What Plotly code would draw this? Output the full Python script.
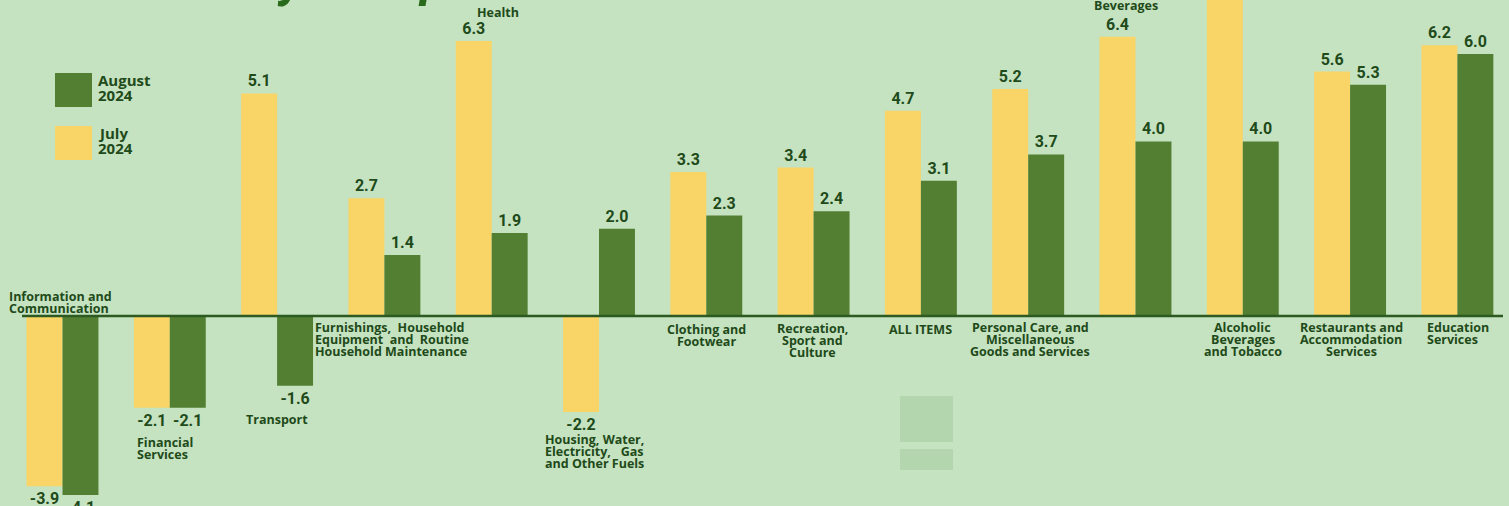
import plotly.graph_objects as go

# ---------------- data ----------------
categories = [
    "Information and Communication",
    "Financial Services",
    "Transport",
    "Furnishings, Household Equipment and Routine Household Maintenance",
    "Health",
    "Housing, Water, Electricity, Gas and Other Fuels",
    "Clothing and Footwear",
    "Recreation, Sport and Culture",
    "ALL ITEMS",
    "Personal Care, and Miscellaneous Goods and Services",
    "Food and Non-Alcoholic Beverages",
    "Alcoholic Beverages and Tobacco",
    "Restaurants and Accommodation Services",
    "Education Services",
]
july_2024 = [-3.9, -2.1, 5.1, 2.7, 6.3, -2.2, 3.3, 3.4, 4.7, 5.2, 6.4, 7.9, 5.6, 6.2]
august_2024 = [-4.1, -2.1, -1.6, 1.4, 1.9, 2.0, 2.3, 2.4, 3.1, 3.7, 4.0, 4.0, 5.3, 6.0]
series_names = ["July<br>2024", "August<br>2024"]
title_text = "Commodity Group"

label_lines = [
    ["Information and", "Communication"],
    ["Financial", "Services"],
    ["Transport"],
    ["Furnishings,  Household", "Equipment  and  Routine", "Household Maintenance"],
    ["Health"],
    ["Housing, Water,", "Electricity,   Gas", "and Other Fuels"],
    ["Clothing and", "Footwear"],
    ["Recreation,", "Sport and", "Culture"],
    ["ALL ITEMS"],
    ["Personal Care, and", "Miscellaneous", "Goods and Services"],
    ["Food and Non-", "Alcoholic", "Beverages"],
    ["Alcoholic", "Beverages", "and Tobacco"],
    ["Restaurants and", "Accommodation", "Services"],
    ["Education", "Services"],
]
# layout of category labels: (anchor, x shift px from category centre, first line centre px from top)
label_layout = [
    ("left", -55, 296), ("left", -34, 442), ("left", -32, 419), ("left", -70, 327),
    ("center", 6, 13), ("left", -55, 439), ("center", 0, 329), ("center", -1, 328),
    ("center", 0, 329), ("center", 2, 327), ("center", -10, -19), ("center", 0, 327),
    ("center", 1, 327), ("left", -31, 327),
]

# ---------------- style ----------------
W, H = 1509, 506
BG = "#c5e3c0"
YELLOW = "#f9d466"
GREEN = "#527f32"
TEXT = "#1f4a1a"
FONT = "Roboto"
LABEL_FONT = "Open Sans"
LINE_STEP = 12


def fx(px):
    return px / W


def fy(py):
    return 1 - py / H


fig = go.Figure()
for name, vals, col in [(series_names[0], july_2024, YELLOW), (series_names[1], august_2024, GREEN)]:
    fig.add_trace(go.Bar(
        x=categories, y=vals, name=name.replace("<br>", " "),
        marker=dict(color=col, line=dict(width=0)),
        texttemplate="%{y:.1f}", textposition="outside",
        textfont=dict(family=FONT, size=16, color=TEXT, weight="bold"),
        constraintext="none", cliponaxis=True,
    ))

annotations = []
for i, (lines, (anchor, dx, y0)) in enumerate(zip(label_lines, label_layout)):
    for k, line in enumerate(lines):
        annotations.append(dict(
            x=i, xref="x", xshift=dx, xanchor=anchor,
            y=fy(y0 + k * LINE_STEP), yref="paper", yanchor="middle",
            text=line, showarrow=False, align=anchor, borderpad=0,
            font=dict(family=LABEL_FONT, size=12.5, color=TEXT, weight="bold"),
        ))

# legend (manual)
legend_items = [(series_names[1], GREEN, 73), (series_names[0], YELLOW, 126)]
shapes = []
for name, col, top in legend_items:
    shapes.append(dict(type="rect", xref="paper", yref="paper",
                       x0=fx(55), x1=fx(92), y0=fy(top), y1=fy(top + 34),
                       fillcolor=col, line=dict(width=0)))
    for k, line in enumerate(name.split("<br>")):
        annotations.append(dict(
            x=fx(97), xref="paper", xanchor="left",
            y=fy(top + 7 + k * 15), yref="paper", yanchor="middle",
            text=line, showarrow=False, borderpad=0,
            font=dict(family=LABEL_FONT, size=15, color=TEXT, weight="bold"),
        ))

# title (mostly cut off at top)
annotations.append(dict(
    x=fx(50), xref="paper", xanchor="left",
    y=fy(10), yref="paper", yanchor="bottom",
    text="<i>" + title_text + "</i>", showarrow=False,
    font=dict(family=FONT, size=50, color="#2a6a1c", weight="bold"),
))

# faint watermark rectangles
for (x0, y0, x1, y1) in [(900, 396, 953, 442), (900, 449, 953, 470)]:
    shapes.append(dict(type="rect", xref="paper", yref="paper", layer="below",
                       x0=fx(x0), x1=fx(x1), y0=fy(y0), y1=fy(y1),
                       fillcolor="rgba(150,190,140,0.35)", line=dict(width=0)))

# zero line
shapes.append(dict(type="line", xref="paper", yref="y", layer="above",
                   x0=fx(22), x1=fx(1503), y0=0, y1=0,
                   line=dict(color="#2c5a20", width=2.5)))

ppu = 43.65
zero_px = 316
fig.update_layout(
    width=W, height=H, autosize=False,
    margin=dict(l=0, r=0, t=0, b=0),
    paper_bgcolor=BG, plot_bgcolor=BG,
    barmode="group", bargap=0.33, bargroupgap=0.0,
    showlegend=False,
    xaxis=dict(visible=False, range=[-62.5 / 107.3, (W - 62.5) / 107.3]),
    yaxis=dict(visible=False, range=[-(H - zero_px) / ppu, zero_px / ppu]),
    annotations=annotations, shapes=shapes,
)

fig.write_html("out.html", config={"displayModeBar": False},
               post_script="document.body.style.margin='0';")
